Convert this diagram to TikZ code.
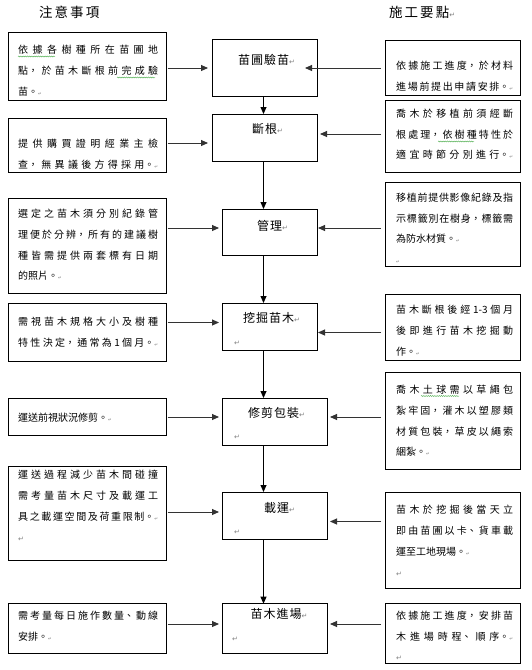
\documentclass[tikz,border=0pt]{standalone}
\usepackage{fontspec}
\setmainfont{Noto Sans CJK TC}
\newfontfamily\symfont{DejaVu Sans}
\newfontfamily\titlefont[LetterSpace=15]{Noto Sans CJK TC}
\newfontfamily\ctrfont[LetterSpace=8]{Noto Sans CJK TC}
\usetikzlibrary{arrows.meta,decorations.pathmorphing}
\XeTeXlinebreaklocale "zh"
\XeTeXlinebreakskip=0pt plus 6pt
\hbadness=10000
\definecolor{markgray}{RGB}{128,128,128}
\definecolor{squig}{RGB}{70,170,70}
\newcommand\pmk{{\symfont\color{markgray}\fontsize{7}{7}\selectfont ↵}}
\newcommand\pms{{\symfont\color{markgray}\fontsize{4.5}{5}\selectfont ↵}}
\begin{document}
\begin{tikzpicture}[x=1pt,y=-1pt,
  bx/.style={draw, line width=0.8pt, inner sep=0pt, outer sep=0pt, anchor=north west},
  ltxt/.style={anchor=base west, inner sep=0pt, text width=140pt, align=justify, font={\fontsize{10}{20.8}\selectfont\tolerance=10000}},
  rtxt/.style={ltxt, text width=117pt},
  ctxt/.style={anchor=base west, inner sep=0pt, font={\ctrfont\fontsize{12}{14}\selectfont}},
  mtxt/.style={anchor=base west, inner sep=0pt},
  ttl/.style={anchor=base west, inner sep=0pt, font={\titlefont\fontsize{13.5}{16}\selectfont}},
  harr/.style={draw=black!80, line width=0.9pt, -{Triangle[length=7pt,width=6pt]}},
  varr/.style={draw=black, line width=0.8pt, -{Triangle[length=7pt,width=6pt]}},
  sq/.style={draw=squig, line width=0.4pt, decorate, decoration={snake, amplitude=0.5pt, segment length=2.2pt}}
]
\useasboundingbox (0,0) rectangle (531,670);
\fill[white] (0,0) rectangle (531,670);

% titles
\node[ttl] (t1) at (39,17) {注意事項};
\node[ttl] (t2) at (389,17) {施工要點\pmk};

% left boxes
\node[bx, minimum width=158, minimum height=68]   (L1) at (8,32) {};
\node[bx, minimum width=158, minimum height=53.5] (L2) at (8,118.5) {};
\node[bx, minimum width=158, minimum height=95]   (L3) at (8,198) {};
\node[bx, minimum width=158, minimum height=57.5] (L4) at (8,303.5) {};
\node[bx, minimum width=158, minimum height=36.6] (L5) at (8,398.8) {};
\node[bx, minimum width=158, minimum height=93.5] (L6) at (8,466.5) {};
\node[bx, minimum width=158, minimum height=50]   (L7) at (8,603.7) {};

% centre boxes
\node[bx, minimum width=105, minimum height=57] (C1) at (212,39) {};
\node[bx, minimum width=105, minimum height=47] (C2) at (212,114) {};
\node[bx, minimum width=95,  minimum height=46] (C3) at (222,209) {};
\node[bx, minimum width=95,  minimum height=47] (C4) at (222,303) {};
\node[bx, minimum width=105, minimum height=47] (C5) at (222,398) {};
\node[bx, minimum width=105, minimum height=47] (C6) at (222,492) {};
\node[bx, minimum width=105, minimum height=50] (C7) at (222,603.7) {};

% right boxes
\node[bx, minimum width=135.5, minimum height=55]   (R1) at (385,40.6) {};
\node[bx, minimum width=135.5, minimum height=72]   (R2) at (385,100) {};
\node[bx, minimum width=135.5, minimum height=84]   (R3) at (385,182) {};
\node[bx, minimum width=135.5, minimum height=65.6] (R4) at (385,294.4) {};
\node[bx, minimum width=135.5, minimum height=96.3] (R5) at (385,372.7) {};
\node[bx, minimum width=135.5, minimum height=95.2] (R6) at (385,492.8) {};
\node[bx, minimum width=135.5, minimum height=59.3] (R7) at (385,603.7) {};

% left texts
\node[ltxt] (L1t) at (18,53.8) {依據各樹種所在苗圃地\linebreak 點，於苗木斷根前完成驗\linebreak 苗。\pms};
\node[ltxt] (L2t) at (18,147.8) {提供購買證明經業主檢\linebreak 查，無異議後方得採用。\pms\linebreak};
\node[ltxt] (L3t) at (18,217.5) {選定之苗木須分別紀錄管\linebreak 理便於分辨，所有的建議樹\linebreak 種皆需提供兩套標有日期\linebreak 的照片。\pms};
\node[ltxt] (L4t) at (18,325.8) {需視苗木規格大小及樹種\linebreak 特性決定，通常為1個月。\pms\linebreak};
\node[ltxt] (L5t) at (18,421.8) {運送前視狀況修剪。\pms};
\node[ltxt] (L6t) at (18,478.8) {運送過程減少苗木間碰撞\linebreak 需考量苗木尺寸及載運工\linebreak 具之載運空間及荷重限制。\pms\linebreak\pmk};
\node[ltxt] (L7t) at (18,619.3) {需考量每日施作數量、動線\linebreak 安排。\pms};

% right texts
\node[rtxt] (R1t) at (396,69.8) {依據施工進度，於材料\linebreak 進場前提出申請安排。\pms\linebreak};
\node[rtxt] (R2t) at (396,117.3) {喬木於移植前須經斷\linebreak 根處理，依樹種特性於\linebreak 適宜時節分別進行。\pms\linebreak};
\node[rtxt] (R3t) at (396,201.3) {移植前提供影像紀錄及指\linebreak 示標籤別在樹身，標籤需\linebreak 為防水材質。\pms\newline\pms};
\node[rtxt] (R4t) at (396,313.8) {苗木斷根後經 1-3 個月\linebreak 後即進行苗木挖掘動\linebreak 作。\pms};
\node[rtxt] (R5t) at (396,393.4) {喬木土球需以草繩包\linebreak 紮牢固，灌木以塑膠類\linebreak 材質包裝，草皮以繩索\linebreak 綑紮。\pms};
\node[rtxt] (R6t) at (396,513.8) {苗木於挖掘後當天立\linebreak 即由苗圃以卡、貨車載\linebreak 運至工地現場。\pms\newline\pmk};
\node[rtxt] (R7t) at (396,619.3) {依據施工進度，安排苗\linebreak 木進場時程、順序。\pms\linebreak\pmk};

% centre texts
\node[ctxt] (C1t) at (238,64) {苗圃驗苗\pmk};
\node[ctxt] (C2t) at (252,133.5) {斷根\pmk};
\node[ctxt] (C3t) at (257,230) {管理\pmk};
\node[ctxt] (C4t) at (243,322.5) {挖掘苗木\pmk};
\node[mtxt] (C4m) at (234,345) {\pmk};
\node[ctxt] (C5t) at (248,417.5) {修剪包裝\pmk};
\node[mtxt] (C5m) at (234,439) {\pmk};
\node[ctxt] (C6t) at (264,512.5) {載運\pmk};
\node[mtxt] (C6m) at (234,534) {\pmk};
\node[ctxt] (C7t) at (250.5,618.5) {苗木進場\pmk};
\node[mtxt] (C7m) at (232,641.5) {\pmk};

% spell-check squiggles
\draw[sq] (18,56.5) -- (55,56.5);
\draw[sq] (117,77.5) -- (155,77.5);
\draw[sq] (438,141.5) -- (474,141.5);
\draw[sq] (421,396) -- (459,396);

% vertical flow
\coordinate (vx) at (263.5,0);
\draw[varr] (vx |- C1.south) -- (vx |- C2.north);
\draw[varr] (vx |- C2.south) -- (vx |- C3.north);
\draw[varr] (vx |- C3.south) -- (vx |- C4.north);
\draw[varr] (vx |- C4.south) -- (vx |- C5.north);
\draw[varr] (vx |- C5.south) -- (vx |- C6.north);
\draw[varr] (vx |- C6.south) -- (vx |- C7.north);

% left arrows
\coordinate (a1) at (0,68);
\coordinate (a2) at (0,143);
\coordinate (a3) at (0,228);
\coordinate (a4) at (0,322.5);
\coordinate (a5) at (0,417);
\coordinate (a6) at (0,512);
\coordinate (a7) at (0,624);
\draw[harr, shorten <=1.6pt, shorten >=4pt] (L1.east |- a1) -- (C1.west |- a1);
\draw[harr, shorten <=1.6pt, shorten >=4pt] (L2.east |- a2) -- (C2.west |- a2);
\draw[harr, shorten <=1.6pt, shorten >=3pt] (L3.east |- a3) -- (C3.west |- a3);
\draw[harr, shorten <=1.6pt, shorten >=3pt] (L4.east |- a4) -- (C4.west |- a4);
\draw[harr, shorten <=1.6pt, shorten >=3pt] (L5.east |- a5) -- (C5.west |- a5);
\draw[harr, shorten <=1.6pt, shorten >=3pt] (L6.east |- a6) -- (C6.west |- a6);
\draw[harr, shorten <=1.6pt, shorten >=3pt] (L7.east |- a7) -- (C7.west |- a7);

% right arrows
\coordinate (b1) at (305,68);
\coordinate (b2) at (320,134);
\coordinate (b3) at (318,228);
\coordinate (b4) at (318,332.5);
\coordinate (b5) at (330,417);
\coordinate (b6) at (330,521.5);
\coordinate (b7) at (330,624);
\draw[harr, shorten <=4pt] (R1.west |- b1) -- (b1);
\draw[harr, shorten <=4pt] (R2.west |- b2) -- (b2);
\draw[harr, shorten <=4pt] (R3.west |- b3) -- (b3);
\draw[harr, shorten <=4pt] (R4.west |- b4) -- (b4);
\draw[harr, shorten <=4pt] (R5.west |- b5) -- (b5);
\draw[harr, shorten <=4pt] (R6.west |- b6) -- (b6);
\draw[harr, shorten <=4pt] (R7.west |- b7) -- (b7);
\end{tikzpicture}
\end{document}
